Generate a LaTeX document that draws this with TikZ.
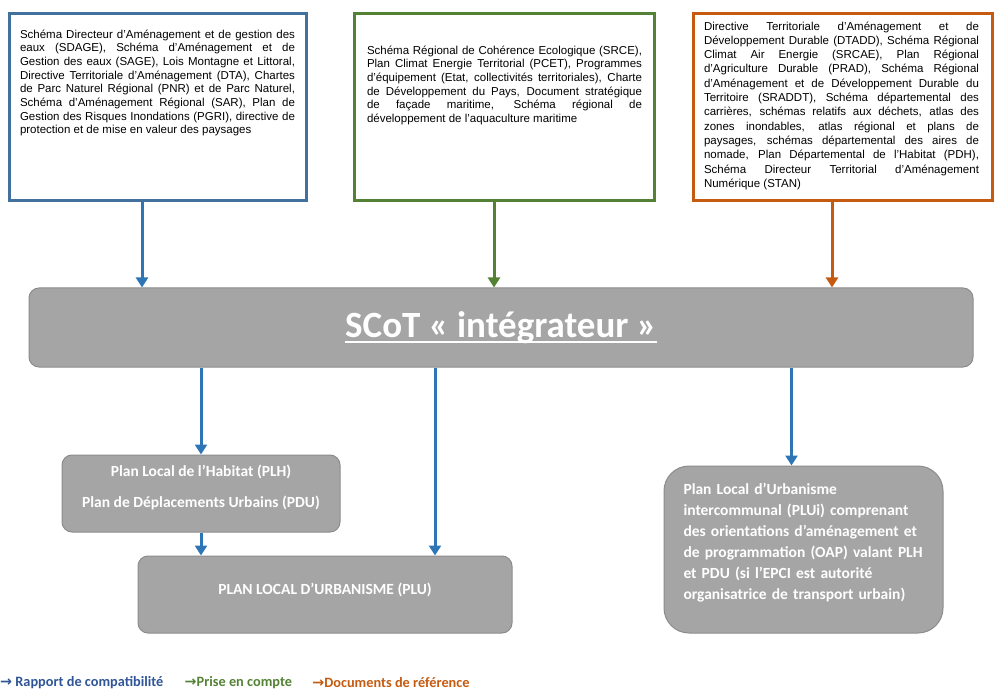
\documentclass[tikz,border=0pt]{standalone}
\usepackage{fontspec}
\setmainfont{Liberation Sans}
\newfontfamily\calibri{Carlito}
\newfontfamily\arrowfont{DejaVu Sans}
\newcommand{\scotline}[1]{\setbox0=\hbox{#1}\rlap{\rule[-5.5pt]{\wd0}{1.6pt}}\box0}
\usetikzlibrary{positioning,arrows.meta}
\definecolor{refblue}{RGB}{65,113,156}
\definecolor{refgreen}{RGB}{84,130,53}
\definecolor{reforange}{RGB}{197,90,17}
\definecolor{flowblue}{RGB}{46,117,182}
\definecolor{legblue}{RGB}{47,85,151}
\definecolor{boxgray}{RGB}{165,165,165}
\definecolor{edgegray}{RGB}{140,140,140}
\tikzset{refbox/.style={rectangle, line width=3pt, fill=white, minimum height=187pt},
boxtext/.style={inner sep=0pt, outer sep=0pt, text width=275pt, align=justify, font=\fontsize{11.5}{13.7}\selectfont},
graybox/.style={rectangle, rounded corners=10pt, draw=edgegray, fill=boxgray, line width=1pt, text=white, font=\calibri\bfseries\fontsize{15.5}{21}\selectfont},
flow/.style={line width=3pt, -{Triangle[length=10pt,width=12pt]}},
legend/.style={inner sep=0pt, font=\calibri\bfseries\fontsize{14.3}{16}\selectfont},}

\begin{document}
\begin{tikzpicture}[x=1pt, y=-1pt]
\useasboundingbox (0,0) rectangle (1000,700);
\node [refbox, draw=refblue, minimum width=297pt] (sdage) at (158,107) {};
\node [refbox, draw=refgreen, minimum width=300pt] (srce) at (504.5,107) {};
\node [refbox, draw=reforange, minimum width=299pt] (dtadd) at (843,107) {};
\node [boxtext, below right=17.6pt and 12pt of sdage.north west] (sdagetxt) {Schéma Directeur d’Aménagement et de gestion des\linebreak eaux (SDAGE), Schéma d’Aménagement et de\linebreak Gestion des eaux (SAGE), Lois Montagne et Littoral,\linebreak Directive Territoriale d’Aménagement (DTA), Chartes\linebreak de Parc Naturel Régional (PNR) et de Parc Naturel,\linebreak Schéma d’Aménagement Régional (SAR), Plan de\linebreak Gestion des Risques Inondations (PGRI), directive de\linebreak protection et de mise en valeur des paysages};
\node [boxtext, below right=33.6pt and 14pt of srce.north west] (srcetxt) {Schéma Régional de Cohérence Ecologique (SRCE),\linebreak Plan Climat Energie Territorial (PCET), Programmes\linebreak d’équipement (Etat, collectivités territoriales), Charte\linebreak de Développement du Pays, Document stratégique\linebreak de façade maritime, Schéma régional de\linebreak développement de l’aquaculture maritime};
\node [boxtext, font=\fontsize{11.5}{14.3}\selectfont, below right=9.6pt and 12pt of dtadd.north west] (dtaddtxt) {Directive Territoriale d’Aménagement et de\linebreak Développement Durable (DTADD), Schéma Régional\linebreak Climat Air Energie (SRCAE), Plan Régional\linebreak d’Agriculture Durable (PRAD), Schéma Régional\linebreak d’Aménagement et de Développement Durable du\linebreak Territoire (SRADDT), Schéma départemental des\linebreak carrières, schémas relatifs aux déchets, atlas des\linebreak zones inondables, atlas régional et plans de\linebreak paysages, schémas départemental des aires de\linebreak nomade, Plan Départemental de l’Habitat (PDH),\linebreak Schéma Directeur Territorial d’Aménagement\linebreak Numérique (STAN)};
\node [graybox, minimum width=944pt, minimum height=79pt, font=\calibri\bfseries\fontsize{37}{42}\selectfont] (scot) at (501,327.5) {\scotline{SCoT «~intégrateur~»}};
\node [graybox, minimum width=278pt, minimum height=77pt, align=center, text depth=15pt] (plh) at (201,493.5) {Plan Local de l’Habitat (PLH)\\[10pt]Plan de Déplacements Urbains (PDU)};
\node [graybox, minimum width=374pt, minimum height=77pt, text depth=11pt] (plu) at (325,594.5) {PLAN LOCAL D’URBANISME (PLU)};
\node [graybox, rounded corners=25pt, minimum width=279pt, minimum height=167pt, text width=240pt, align=left, text depth=120.6pt] (plui) at (803.5,549.5) {Plan Local d’Urbanisme\\intercommunal (PLUi) comprenant\\des orientations d’aménagement et\\de programmation (OAP) valant PLH\\et PDU (si l’EPCI est autorité\\organisatrice de transport urbain)};
\coordinate (plutop) at ([xshift=110pt]plu.north);
\coordinate (pluitop) at ([xshift=-12pt]plui.north);
\draw [flow, flowblue] ([xshift=-16pt]sdage.south) -- ([xshift=-16pt]sdage.south |- scot.north);
\draw [flow, refgreen] ([xshift=-10.5pt]srce.south) -- ([xshift=-10.5pt]srce.south |- scot.north);
\draw [flow, reforange] ([xshift=-11pt]dtadd.south) -- ([xshift=-11pt]dtadd.south |- scot.north);
\draw [flow, flowblue] (scot.south -| plh.north) -- (plh.north);
\draw [flow, flowblue] (scot.south -| plutop) -- (plutop);
\draw [flow, flowblue] (scot.south -| pluitop) -- (pluitop);
\draw [flow, flowblue] (plh.south) -- (plh.south |- plu.north);
\node [legend, text=legblue, anchor=west] (compat) at (0,683) {{\arrowfont →} Rapport de compatibilité};
\node [legend, text=refgreen, right=21pt of compat] (compte) {{\arrowfont →}Prise en compte};
\node [legend, text=reforange, right=20pt of compte] (refdocs) {{\arrowfont →}Documents de référence};
\end{tikzpicture}
\end{document}
